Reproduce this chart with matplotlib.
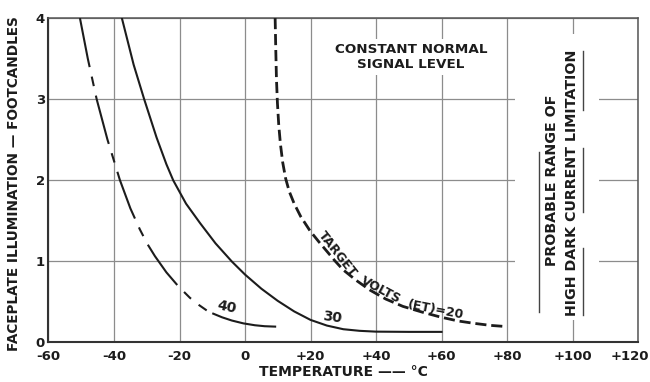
import matplotlib
matplotlib.use("Agg")
import matplotlib.pyplot as plt
from matplotlib.patches import Rectangle
from matplotlib.transforms import ScaledTranslation

plt.rcParams['font.family'] = ['DejaVu Sans']
plt.rcParams['font.weight'] = 'bold'
plt.rcParams['axes.labelweight'] = 'bold'
plt.rcParams['lines.scale_dashes'] = False

# target volts = 40 (dashed upper part, solid tail after the label)
t40_dash = [-50.4, -48.0, -45.3, -42.0, -38.2, -35.0, -32.1, -29.8, -27.5,
            -24.0, -20.4, -16.8, -14.0, -11.7]
y40_dash = [4.0, 3.50, 3.0, 2.5, 2.0, 1.65, 1.39, 1.21, 1.06,
            0.86, 0.69, 0.545, 0.455, 0.39]
t40_solid = [-9.7, -7.0, -4.0, -0.5, 3.0, 6.0, 9.2]
y40_solid = [0.35, 0.305, 0.265, 0.23, 0.207, 0.195, 0.19]

# target volts = 30
t30 = [-37.6, -34.0, -30.8, -27.0, -24.0, -21.9, -18.0, -13.7, -9.0, -4.0, 0.0,
       5.0, 10.0, 15.0, 20.0, 25.0, 30.0, 35.0, 40.0, 50.0, 60.0]
y30 = [4.0, 3.424, 3.0, 2.525, 2.195, 1.995, 1.708, 1.467, 1.218, 0.993, 0.833,
       0.658, 0.508, 0.378, 0.273, 0.203, 0.158, 0.138, 0.128, 0.125, 0.125]

# target volts = 20
t20 = [9.2, 9.4, 9.6, 9.9, 10.3, 10.8, 11.5, 12.4, 13.5, 15.0, 17.0, 19.9, 22.5,
       25.0, 27.5, 30.0, 34.0, 38.2, 43.0, 48.2, 54.0, 59.5, 65.0, 70.0, 75.0, 80.0]
y20 = [4.0, 3.6, 3.25, 2.95, 2.68, 2.45, 2.22, 2.02, 1.86, 1.71, 1.55, 1.37, 1.24,
       1.12, 1.0, 0.89, 0.76, 0.64, 0.53, 0.44, 0.37, 0.31, 0.26, 0.23, 0.205, 0.19]

xticks = [-60, -40, -20, 0, 20, 40, 60, 80, 100, 120]
xlabels = ['-60', '-40', '-20', '0', '+20', '+40', '+60', '+80', '+100', '+120']
yticks = [0, 1, 2, 3, 4]
ylabels = ['0', '1', '2', '3', '4']

ink = '#1c1c1c'

fig = plt.figure(figsize=(6.5, 3.82), dpi=100)
ax = fig.add_axes([0.0746, 0.1047, 0.907, 0.848])
ax.set_xlim(-60, 120)
ax.set_ylim(0, 4)
ax.set_xticks(xticks)
ax.set_xticklabels(xlabels)
ax.set_yticks(yticks)
ax.set_yticklabels(ylabels)
ax.tick_params(length=0, labelsize=9.5, colors=ink)
ax.tick_params(axis='x', pad=6)
ax.tick_params(axis='y', pad=2.5)
# last label sits partly past the right edge, nudge it in
last = ax.get_xticklabels()[-1]
last.set_transform(last.get_transform() + ScaledTranslation(-6 / 72, 0, fig.dpi_scale_trans))

ax.set_axisbelow(True)
ax.grid(True, color='#8c8c8c', linewidth=0.9)
for side in ['top', 'right']:
    ax.spines[side].set_color('#555555')
    ax.spines[side].set_linewidth(1.1)
for side in ['left', 'bottom']:
    ax.spines[side].set_color('#333333')
    ax.spines[side].set_linewidth(1.5)

ax.plot(t40_dash, y40_dash, color=ink, lw=1.5, dashes=(36, 7, 7, 7), zorder=3)
ax.plot(t40_solid, y40_solid, color=ink, lw=1.5, zorder=3)
ax.plot(t30, y30, color=ink, lw=1.5, zorder=3)
ax.plot(t20, y20, color=ink, lw=2.0, dashes=(8, 3.5), zorder=3)

ax.text(-5.6, 0.43, '40', fontsize=10, color=ink, rotation=-12,
        ha='center', va='center', zorder=4)
ax.text(26.5, 0.31, '30', fontsize=10, color=ink, rotation=-8,
        ha='center', va='center', zorder=4)
ax.text(28.3, 1.08, 'TARGET', fontsize=9, color=ink, rotation=-51.7,
        ha='center', va='center', rotation_mode='anchor', zorder=4)
ax.text(41.5, 0.64, 'VOLTS', fontsize=9, color=ink, rotation=-27.8,
        ha='center', va='center', rotation_mode='anchor', zorder=4)
ax.text(58.3, 0.40, '(ET)=20', fontsize=9, color=ink, rotation=-11,
        ha='center', va='center', rotation_mode='anchor', zorder=4)

ax.text(50.7, 3.52, 'CONSTANT NORMAL\nSIGNAL LEVEL', fontsize=9.7, color=ink,
        ha='center', va='center', multialignment='center', linespacing=1.2,
        bbox=dict(facecolor='white', edgecolor='none', pad=3), zorder=4)

# region of high dark current limitation
ax.add_patch(Rectangle((82.5, 0.27), 25.6, 3.53, facecolor='white',
                       edgecolor='none', zorder=1))
ax.text(93.6, 2.0, 'PROBABLE RANGE OF', fontsize=10.3, color=ink, rotation=90,
        ha='center', va='center', zorder=4)
ax.text(99.8, 1.97, 'HIGH DARK CURRENT LIMITATION', fontsize=10.3, color=ink,
        rotation=90, ha='center', va='center', zorder=4)
ax.plot([89.8, 89.8], [0.37, 2.35], color='#444444', lw=1.0, zorder=3)
for y0, y1 in [(2.87, 3.59), (1.60, 2.40), (0.33, 1.16)]:
    ax.plot([103.2, 103.2], [y0, y1], color='#444444', lw=1.0, zorder=3)

ax.set_xlabel('TEMPERATURE —— °C', fontsize=10, color=ink, labelpad=1)
ax.set_ylabel('FACEPLATE ILLUMINATION — FOOTCANDLES', fontsize=9.8, color=ink)
ax.yaxis.set_label_coords(-0.046, 0.489)

fig.savefig('out.png', dpi=100, facecolor='white')
